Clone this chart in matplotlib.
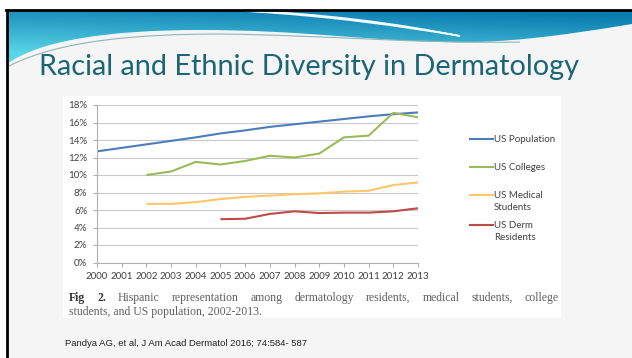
import numpy as np
import matplotlib.pyplot as plt
from matplotlib.path import Path
from matplotlib.patches import PathPatch, Rectangle
from matplotlib.lines import Line2D
from matplotlib.ticker import FuncFormatter

nan = np.nan

# data (percent hispanic)
years = list(range(2000, 2014))
us_population = [12.7, 13.1, 13.5, 13.9, 14.3, 14.75, 15.1, 15.5, 15.8, 16.1, 16.4, 16.7, 16.95, 17.15]
us_colleges = [nan, nan, 10.0, 10.4, 11.5, 11.2, 11.6, 12.2, 12.0, 12.45, 14.3, 14.5, 17.1, 16.6]
us_med_students = [nan, nan, 6.7, 6.7, 6.9, 7.25, 7.5, 7.65, 7.8, 7.9, 8.1, 8.2, 8.85, 9.15]
us_derm_residents = [nan, nan, nan, nan, nan, 4.95, 5.0, 5.55, 5.85, 5.65, 5.7, 5.7, 5.85, 6.2]

series = [us_population, us_colleges, us_med_students, us_derm_residents]
series_names = ["US Population", "US Colleges", "US Medical\nStudents", "US Derm\nResidents"]
series_colors = ["#4a7ebb", "#9bbb59", "#fac869", "#be4b48"]

title = "Racial and Ethnic Diversity in Dermatology"
caption_1 = "Hispanic representation among dermatology residents, medical students, college"
caption_2 = "students, and US population, 2002-2013."
reference = "Pandya AG, et al, J Am Acad Dermatol 2016; 74:584- 587"

W, H = 632, 358
fig = plt.figure(figsize=(W / 100, H / 100), dpi=100)
fig.patch.set_facecolor("white")

# slide background, pixel coordinates
bg = fig.add_axes([0, 0, 1, 1], zorder=0)
bg.set_xlim(0, W)
bg.set_ylim(H, 0)
bg.axis("off")

bg.add_patch(Rectangle((7, 10), W, H, facecolor="#f5f5f5", edgecolor="none"))

# teal header with gradient
gy, gx = np.mgrid[0:60, 0:W]
t = np.clip(gy / 55 + (1 - gx / W) * 0.35 - 0.1, 0, 1)
c0 = np.array([0x0a, 0x7c, 0xb0]) / 255
c1 = np.array([0x5a, 0xd6, 0xe6]) / 255
grad = c0 * (1 - t[..., None]) + c1 * t[..., None]
head = Path([(7, 11), (W, 11), (W, 24),
             (560, 36), (500, 44), (440, 42),
             (360, 40), (300, 30), (200, 30),
             (110, 30), (40, 40), (7, 64), (7, 11)],
            [Path.MOVETO, Path.LINETO, Path.LINETO,
             Path.CURVE4, Path.CURVE4, Path.CURVE4,
             Path.CURVE4, Path.CURVE4, Path.CURVE4,
             Path.CURVE4, Path.CURVE4, Path.CURVE4, Path.CLOSEPOLY])
patch = PathPatch(head, facecolor="none", edgecolor="none")
bg.add_patch(patch)
im = bg.imshow(grad, extent=(0, W, 71, 11), aspect="auto", zorder=1)
im.set_clip_path(patch)

swoosh = Path([(245, 11), (330, 16), (400, 26), (460, 36),
               (400, 24), (320, 13), (245, 11)],
              [Path.MOVETO, Path.CURVE4, Path.CURVE4, Path.CURVE4,
               Path.CURVE4, Path.CURVE4, Path.CURVE4])
bg.add_patch(PathPatch(swoosh, facecolor="white", edgecolor="white", lw=1.2, alpha=0.9, zorder=2))

line_under = Path([(9, 66), (60, 40), (140, 34), (220, 34),
                   (320, 35), (420, 44), (520, 42)],
                  [Path.MOVETO, Path.CURVE4, Path.CURVE4, Path.CURVE4,
                   Path.CURVE4, Path.CURVE4, Path.CURVE4])
bg.add_patch(PathPatch(line_under, facecolor="none", edgecolor="#8fb5b5", lw=0.8, zorder=2))

# frame
bg.add_line(Line2D([6, W], [10, 10], color="black", lw=2, zorder=3))
bg.add_line(Line2D([7, 7], [10, H], color="black", lw=2, zorder=3))

bg.text(39, 75, title, fontsize=20.8, color="#1b6577", family="Lato", va="baseline", zorder=3)

# white box of pasted figure
bg.add_patch(Rectangle((63, 96), 498, 222, facecolor="white", edgecolor="none", zorder=1))

# chart
ax = fig.add_axes([97 / W, 1 - 262.5 / H, (418 - 97) / W, (262.5 - 105) / H], zorder=2)
ax.patch.set_alpha(0)
for vals, col in zip(series, series_colors):
    ax.plot(years, vals, color=col, lw=1.5, solid_capstyle="butt")
ax.set_xlim(2000, 2013)
ax.set_ylim(0, 18)
ax.set_yticks(range(0, 19, 2))
ax.set_xticks(years)
ax.yaxis.set_major_formatter(FuncFormatter(lambda v, p: "%d%%" % v))
ax.grid(axis="y", color="#c9c9c9", lw=0.8)
ax.set_axisbelow(True)
for s in ["top", "right"]:
    ax.spines[s].set_visible(False)
for s in ["left", "bottom"]:
    ax.spines[s].set_color("#b0b0b0")
    ax.spines[s].set_linewidth(0.8)
ax.tick_params(axis="y", length=3, width=0.8, color="#b0b0b0", pad=4, labelsize=7, labelcolor="#404040")
ax.tick_params(axis="x", length=3, width=0.8, color="#b0b0b0", pad=4, labelsize=7, labelcolor="#404040")
for lab in ax.get_xticklabels() + ax.get_yticklabels():
    lab.set_family("Lato")

# legend drawn at its place beside the plot
legend_y = [139, 167, 195, 225]
for name, col, y in zip(series_names, series_colors, legend_y):
    bg.add_line(Line2D([470, 493], [y, y], color=col, lw=1.5, zorder=3))
    for i, part in enumerate(name.split("\n")):
        bg.text(494, y + i * 12.5, part, fontsize=7, color="#404040", family="Lato", va="center", zorder=3)

# justified caption
r = fig.canvas.get_renderer()
words = ["Fig", "2."] + caption_1.split()
objs = []
for i, w in enumerate(words):
    if i < 2:
        objs.append(bg.text(0, 298, w, fontsize=8.5, family="Liberation Serif", weight="bold", color="#333333", va="center", zorder=3))
    else:
        objs.append(bg.text(0, 298, w, fontsize=8.5, family="Liberation Serif", color="#606060", va="center", zorder=3))
widths = [o.get_window_extent(r).width for o in objs]
gap = (559 - 69 - sum(widths)) / (len(words) - 1)
x = 69
for o, w in zip(objs, widths):
    o.set_x(x)
    x += w + gap
bg.text(69, 312, caption_2, fontsize=8.5, family="Liberation Serif", color="#606060", va="center", zorder=3)

bg.text(65, 344, reference, fontsize=6.8, family="Liberation Sans", color="#222222", va="center", zorder=3)

fig.savefig("out.png", dpi=100)
